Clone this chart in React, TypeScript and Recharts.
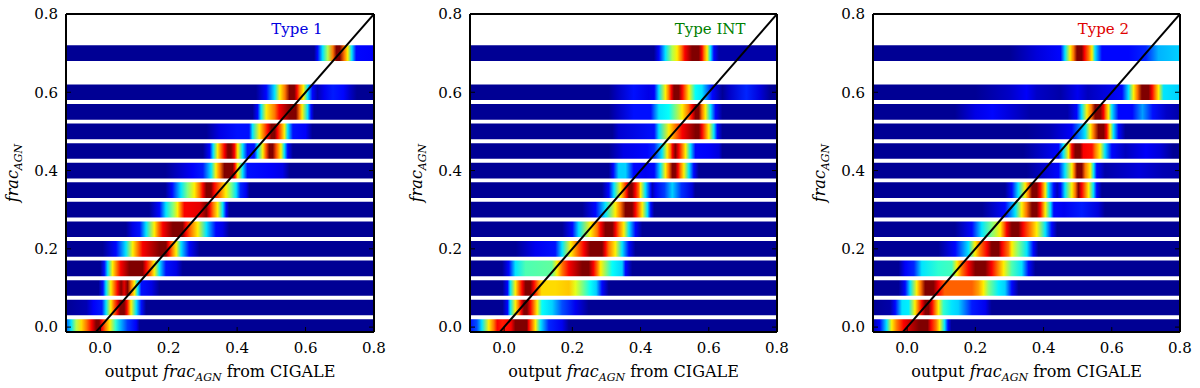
import React from "react";
import {
  ScatterChart,
  Scatter,
  XAxis,
  YAxis,
  ReferenceArea,
  ReferenceLine,
} from "recharts";

const X_DOMAIN: [number, number] = [-0.1, 0.8];
const Y_DOMAIN: [number, number] = [-0.0125, 0.8];
const X_TICKS = [0, 0.2, 0.4, 0.6, 0.8];
const Y_TICKS = [0, 0.2, 0.4, 0.6, 0.8];

// input frac_AGN of each band (rows), bottom to top
const ROW_LEVELS = [0, 0.05, 0.1, 0.15, 0.2, 0.25, 0.3, 0.35, 0.4, 0.45, 0.5, 0.55, 0.6, 0.7];
const ROW_HALF = 0.02;

const IDENTITY_LINE = [
  { x: -0.1, y: -0.1 },
  { x: 0.8, y: 0.8 },
];

// each row: [output frac_AGN, normalised density 0..1]
type Profile = [number, number][];

const type1Rows: Profile[] = [
  [[-0.1, 0.2], [-0.085, 0.35], [-0.07, 0.55], [-0.055, 0.66], [-0.04, 0.76], [-0.025, 0.88], [-0.012, 1], [-0.003, 1], [0.005, 0.88], [0.015, 0.76], [0.028, 0.64], [0.045, 0.42], [0.06, 0.3], [0.08, 0.18], [0.105, 0.12], [0.115, 0.02], [0.8, 0.02]],
  [[-0.1, 0.02], [-0.04, 0.05], [-0.02, 0.12], [0.005, 0.15], [0.017, 0.35], [0.031, 0.64], [0.041, 0.78], [0.051, 0.9], [0.058, 1], [0.07, 1], [0.078, 0.88], [0.09, 0.64], [0.105, 0.35], [0.12, 0.14], [0.134, 0.02], [0.8, 0.02]],
  [[-0.1, 0.02], [-0.005, 0.02], [0.008, 0.14], [0.017, 0.35], [0.031, 0.64], [0.041, 0.76], [0.051, 0.88], [0.061, 1], [0.07, 0.9], [0.08, 1], [0.09, 0.76], [0.1, 0.64], [0.11, 0.35], [0.12, 0.14], [0.15, 0.1], [0.173, 0.02], [0.8, 0.02]],
  [[-0.1, 0.02], [0, 0.02], [0.012, 0.14], [0.022, 0.35], [0.036, 0.64], [0.048, 0.76], [0.06, 0.88], [0.085, 1], [0.124, 1], [0.134, 0.88], [0.147, 0.76], [0.158, 0.64], [0.173, 0.35], [0.192, 0.14], [0.222, 0.1], [0.241, 0.02], [0.8, 0.02]],
  [[-0.1, 0.02], [0.007, 0.02], [0.046, 0.13], [0.075, 0.35], [0.095, 0.64], [0.11, 0.76], [0.124, 0.88], [0.173, 1], [0.192, 1], [0.2, 0.88], [0.21, 0.76], [0.222, 0.64], [0.236, 0.35], [0.26, 0.13], [0.29, 0.02], [0.8, 0.02]],
  [[-0.1, 0.02], [0.075, 0.02], [0.095, 0.1], [0.115, 0.14], [0.134, 0.35], [0.158, 0.64], [0.17, 0.76], [0.183, 0.88], [0.212, 1], [0.241, 1], [0.25, 0.88], [0.265, 0.76], [0.285, 0.64], [0.31, 0.35], [0.338, 0.13], [0.358, 0.1], [0.377, 0.02], [0.8, 0.02]],
  [[-0.1, 0.02], [0.143, 0.02], [0.173, 0.13], [0.192, 0.35], [0.212, 0.5], [0.226, 0.64], [0.236, 0.76], [0.246, 0.88], [0.29, 0.9], [0.31, 1], [0.32, 0.88], [0.33, 0.76], [0.343, 0.64], [0.358, 0.35], [0.368, 0.13], [0.377, 0.02], [0.8, 0.02]],
  [[-0.1, 0.02], [0.19, 0.02], [0.21, 0.13], [0.236, 0.35], [0.255, 0.5], [0.275, 0.64], [0.29, 0.76], [0.3, 0.88], [0.31, 1], [0.324, 1], [0.333, 0.88], [0.35, 0.76], [0.367, 0.64], [0.382, 0.5], [0.397, 0.35], [0.41, 0.16], [0.426, 0.11], [0.436, 0.02], [0.8, 0.02]],
  [[-0.1, 0.02], [0.19, 0.02], [0.27, 0.12], [0.3, 0.15], [0.324, 0.35], [0.338, 0.64], [0.35, 0.76], [0.363, 1], [0.387, 1], [0.393, 0.88], [0.402, 0.64], [0.416, 0.35], [0.43, 0.14], [0.5, 0.12], [0.533, 0.1], [0.553, 0.02], [0.8, 0.02]],
  [[-0.1, 0.02], [0.3, 0.02], [0.32, 0.13], [0.33, 0.35], [0.343, 0.64], [0.353, 0.76], [0.363, 0.88], [0.373, 1], [0.382, 1], [0.392, 0.88], [0.402, 0.64], [0.416, 0.35], [0.43, 0.14], [0.45, 0.14], [0.46, 0.35], [0.475, 0.64], [0.485, 0.8], [0.494, 1], [0.504, 1], [0.514, 0.8], [0.528, 0.64], [0.538, 0.35], [0.548, 0.13], [0.563, 0.02], [0.8, 0.02]],
  [[-0.1, 0.02], [0.31, 0.02], [0.35, 0.1], [0.4, 0.14], [0.435, 0.14], [0.445, 0.35], [0.465, 0.64], [0.478, 0.76], [0.49, 0.88], [0.5, 1], [0.51, 1], [0.518, 0.88], [0.528, 0.76], [0.538, 0.64], [0.548, 0.35], [0.563, 0.14], [0.6, 0.12], [0.62, 0.02], [0.8, 0.02]],
  [[-0.1, 0.02], [0.445, 0.02], [0.46, 0.13], [0.47, 0.35], [0.485, 0.64], [0.51, 0.76], [0.523, 0.88], [0.553, 1], [0.572, 1], [0.582, 0.76], [0.59, 0.64], [0.606, 0.35], [0.616, 0.13], [0.625, 0.02], [0.8, 0.02]],
  [[-0.1, 0.02], [0.455, 0.02], [0.485, 0.13], [0.51, 0.35], [0.525, 0.64], [0.54, 0.76], [0.553, 1], [0.567, 1], [0.575, 0.88], [0.582, 0.76], [0.594, 0.64], [0.606, 0.35], [0.62, 0.13], [0.635, 0.05], [0.655, 0.11], [0.68, 0.15], [0.71, 0.13], [0.73, 0.07], [0.75, 0.02], [0.8, 0.02]],
  [[-0.1, 0.02], [0.625, 0.02], [0.635, 0.13], [0.65, 0.35], [0.665, 0.55], [0.68, 0.76], [0.69, 1], [0.7, 1], [0.713, 0.76], [0.723, 0.64], [0.735, 0.35], [0.748, 0.13], [0.8, 0.12]],
];

const typeIntRows: Profile[] = [
  [[-0.1, 0.14], [-0.08, 0.2], [-0.065, 0.35], [-0.045, 0.64], [-0.03, 0.76], [-0.02, 0.88], [-0.005, 0.85], [0.02, 0.88], [0.033, 1], [0.067, 1], [0.072, 0.88], [0.082, 0.76], [0.092, 0.64], [0.107, 0.35], [0.131, 0.16], [0.17, 0.11], [0.19, 0.02], [0.8, 0.02]],
  [[-0.1, 0.02], [-0.005, 0.02], [0.01, 0.13], [0.018, 0.35], [0.033, 0.64], [0.043, 0.76], [0.05, 0.88], [0.058, 1], [0.067, 1], [0.077, 0.88], [0.087, 0.76], [0.097, 0.64], [0.111, 0.38], [0.141, 0.33], [0.17, 0.2], [0.209, 0.11], [0.248, 0.02], [0.8, 0.02]],
  [[-0.1, 0.02], [-0.005, 0.02], [0.01, 0.13], [0.018, 0.35], [0.033, 0.64], [0.043, 0.76], [0.053, 0.88], [0.063, 1], [0.077, 1], [0.087, 0.88], [0.1, 0.74], [0.11, 0.66], [0.15, 0.66], [0.19, 0.68], [0.209, 0.6], [0.229, 0.5], [0.253, 0.38], [0.27, 0.33], [0.287, 0.13], [0.307, 0.02], [0.8, 0.02]],
  [[-0.1, 0.02], [-0.006, 0.02], [0.014, 0.13], [0.033, 0.35], [0.063, 0.45], [0.14, 0.47], [0.155, 0.64], [0.17, 0.76], [0.19, 0.88], [0.229, 1], [0.248, 1], [0.262, 0.88], [0.273, 0.76], [0.283, 0.64], [0.317, 0.38], [0.346, 0.33], [0.356, 0.13], [0.376, 0.02], [0.8, 0.02]],
  [[-0.1, 0.02], [0.034, 0.02], [0.092, 0.11], [0.15, 0.14], [0.17, 0.35], [0.195, 0.64], [0.214, 0.76], [0.234, 0.88], [0.253, 1], [0.287, 1], [0.297, 0.88], [0.307, 0.76], [0.326, 0.64], [0.346, 0.35], [0.366, 0.13], [0.385, 0.02], [0.8, 0.02]],
  [[-0.1, 0.02], [0.17, 0.02], [0.2, 0.13], [0.219, 0.35], [0.253, 0.64], [0.273, 0.76], [0.283, 0.88], [0.297, 1], [0.317, 1], [0.327, 0.88], [0.337, 0.76], [0.351, 0.64], [0.366, 0.35], [0.385, 0.13], [0.405, 0.02], [0.8, 0.02]],
  [[-0.1, 0.02], [0.229, 0.02], [0.268, 0.13], [0.297, 0.35], [0.326, 0.64], [0.341, 0.76], [0.356, 1], [0.375, 1], [0.385, 0.88], [0.395, 0.76], [0.405, 0.64], [0.42, 0.35], [0.43, 0.13], [0.44, 0.02], [0.8, 0.02]],
  [[-0.1, 0.02], [0.287, 0.02], [0.307, 0.13], [0.322, 0.35], [0.341, 0.64], [0.351, 0.76], [0.36, 0.88], [0.366, 1], [0.375, 1], [0.385, 0.88], [0.395, 0.76], [0.4, 0.64], [0.414, 0.35], [0.43, 0.13], [0.434, 0.05], [0.444, 0.11], [0.47, 0.18], [0.493, 0.33], [0.52, 0.17], [0.551, 0.09], [0.56, 0.02], [0.8, 0.02]],
  [[-0.1, 0.02], [0.307, 0.02], [0.32, 0.13], [0.336, 0.33], [0.356, 0.33], [0.38, 0.13], [0.414, 0.11], [0.44, 0.13], [0.458, 0.35], [0.473, 0.64], [0.483, 0.76], [0.493, 1], [0.502, 1], [0.51, 0.88], [0.517, 0.76], [0.527, 0.64], [0.542, 0.35], [0.556, 0.13], [0.571, 0.02], [0.8, 0.02]],
  [[-0.1, 0.02], [0.307, 0.02], [0.35, 0.1], [0.42, 0.13], [0.44, 0.16], [0.463, 0.35], [0.478, 0.64], [0.488, 0.76], [0.493, 0.88], [0.502, 1], [0.512, 0.88], [0.522, 0.76], [0.532, 0.64], [0.546, 0.35], [0.561, 0.13], [0.6, 0.12], [0.63, 0.09], [0.64, 0.02], [0.8, 0.02]],
  [[-0.1, 0.02], [0.317, 0.02], [0.336, 0.08], [0.44, 0.14], [0.454, 0.35], [0.483, 0.64], [0.502, 0.76], [0.522, 0.88], [0.561, 1], [0.571, 1], [0.58, 0.88], [0.59, 0.76], [0.6, 0.64], [0.615, 0.35], [0.625, 0.13], [0.64, 0.02], [0.8, 0.02]],
  [[-0.1, 0.02], [0.307, 0.02], [0.33, 0.06], [0.38, 0.14], [0.43, 0.14], [0.454, 0.35], [0.483, 0.38], [0.522, 0.64], [0.54, 0.76], [0.551, 0.88], [0.561, 1], [0.571, 1], [0.58, 0.76], [0.59, 0.64], [0.605, 0.35], [0.62, 0.13], [0.64, 0.02], [0.8, 0.02]],
  [[-0.1, 0.02], [0.307, 0.02], [0.33, 0.06], [0.38, 0.14], [0.424, 0.1], [0.44, 0.12], [0.454, 0.35], [0.473, 0.64], [0.483, 0.76], [0.49, 0.88], [0.498, 1], [0.512, 1], [0.522, 0.88], [0.532, 0.76], [0.542, 0.64], [0.561, 0.38], [0.58, 0.35], [0.61, 0.13], [0.64, 0.02], [0.66, 0.07], [0.71, 0.16], [0.75, 0.09], [0.78, 0.02], [0.8, 0.02]],
  [[-0.1, 0.02], [0.439, 0.02], [0.454, 0.13], [0.473, 0.35], [0.493, 0.55], [0.507, 0.64], [0.52, 0.76], [0.53, 0.88], [0.551, 1], [0.571, 1], [0.58, 0.88], [0.586, 0.76], [0.595, 0.64], [0.605, 0.35], [0.615, 0.13], [0.63, 0.04], [0.8, 0.04]],
];

const type2Rows: Profile[] = [
  [[-0.1, 0.05], [-0.08, 0.13], [-0.06, 0.35], [-0.045, 0.64], [-0.03, 0.76], [-0.01, 0.88], [0.004, 0.92], [0.035, 1], [0.06, 1], [0.07, 0.88], [0.085, 0.76], [0.095, 0.64], [0.11, 0.35], [0.12, 0.13], [0.13, 0.02], [0.8, 0.02]],
  [[-0.1, 0.02], [-0.05, 0.04], [-0.035, 0.13], [-0.015, 0.35], [0.004, 0.36], [0.023, 0.64], [0.033, 0.76], [0.043, 0.88], [0.053, 1], [0.063, 1], [0.073, 0.88], [0.082, 0.76], [0.092, 0.64], [0.107, 0.42], [0.131, 0.35], [0.15, 0.33], [0.19, 0.15], [0.229, 0.11], [0.248, 0.02], [0.8, 0.02]],
  [[-0.1, 0.02], [-0.025, 0.02], [-0.006, 0.13], [0.009, 0.35], [0.028, 0.64], [0.04, 0.76], [0.053, 1], [0.077, 1], [0.092, 0.88], [0.11, 0.78], [0.19, 0.78], [0.209, 0.72], [0.224, 0.64], [0.239, 0.5], [0.268, 0.36], [0.287, 0.33], [0.307, 0.13], [0.327, 0.02], [0.8, 0.02]],
  [[-0.1, 0.02], [-0.025, 0.02], [-0.006, 0.12], [0.02, 0.16], [0.043, 0.35], [0.092, 0.42], [0.131, 0.44], [0.146, 0.64], [0.16, 0.76], [0.18, 0.88], [0.2, 1], [0.229, 1], [0.248, 0.88], [0.265, 0.76], [0.283, 0.64], [0.307, 0.45], [0.336, 0.35], [0.356, 0.13], [0.376, 0.02], [0.8, 0.02]],
  [[-0.1, 0.02], [0.092, 0.02], [0.141, 0.13], [0.18, 0.35], [0.199, 0.64], [0.214, 0.76], [0.234, 0.88], [0.248, 1], [0.268, 1], [0.278, 0.88], [0.297, 0.76], [0.307, 0.64], [0.326, 0.5], [0.351, 0.35], [0.37, 0.13], [0.385, 0.02], [0.8, 0.02]],
  [[-0.1, 0.02], [0.14, 0.02], [0.19, 0.13], [0.219, 0.35], [0.248, 0.5], [0.273, 0.64], [0.283, 0.76], [0.292, 0.88], [0.307, 1], [0.326, 1], [0.34, 0.88], [0.36, 0.76], [0.38, 0.64], [0.405, 0.35], [0.424, 0.13], [0.44, 0.02], [0.8, 0.02]],
  [[-0.1, 0.02], [0.22, 0.02], [0.287, 0.13], [0.317, 0.35], [0.336, 0.64], [0.35, 0.76], [0.366, 1], [0.38, 1], [0.39, 0.88], [0.405, 0.64], [0.42, 0.35], [0.43, 0.13], [0.46, 0.11], [0.512, 0.15], [0.56, 0.09], [0.58, 0.02], [0.8, 0.02]],
  [[-0.1, 0.02], [0.287, 0.02], [0.307, 0.13], [0.326, 0.35], [0.346, 0.64], [0.356, 0.76], [0.366, 1], [0.38, 1], [0.39, 0.88], [0.405, 0.64], [0.414, 0.35], [0.43, 0.13], [0.44, 0.06], [0.45, 0.13], [0.463, 0.35], [0.483, 0.64], [0.493, 0.76], [0.502, 1], [0.512, 0.88], [0.532, 0.64], [0.546, 0.35], [0.556, 0.13], [0.571, 0.02], [0.8, 0.02]],
  [[-0.1, 0.02], [0.35, 0.02], [0.444, 0.13], [0.463, 0.35], [0.483, 0.64], [0.49, 0.76], [0.498, 1], [0.512, 1], [0.522, 0.76], [0.537, 0.64], [0.547, 0.35], [0.556, 0.13], [0.58, 0.04], [0.68, 0.09], [0.75, 0.05], [0.8, 0.04]],
  [[-0.1, 0.02], [0.34, 0.02], [0.444, 0.13], [0.458, 0.35], [0.473, 0.64], [0.483, 0.88], [0.493, 1], [0.507, 1], [0.517, 0.88], [0.542, 0.86], [0.551, 0.76], [0.566, 0.64], [0.58, 0.35], [0.6, 0.13], [0.64, 0.06], [0.7, 0.12], [0.74, 0.09], [0.78, 0.02], [0.8, 0.02]],
  [[-0.1, 0.02], [0.35, 0.02], [0.42, 0.05], [0.483, 0.12], [0.522, 0.35], [0.537, 0.64], [0.547, 0.76], [0.561, 1], [0.576, 1], [0.585, 0.88], [0.595, 0.64], [0.605, 0.35], [0.62, 0.13], [0.64, 0.02], [0.8, 0.02]],
  [[-0.1, 0.02], [0.14, 0.02], [0.2, 0.1], [0.25, 0.13], [0.3, 0.09], [0.36, 0.04], [0.47, 0.04], [0.497, 0.13], [0.512, 0.35], [0.527, 0.64], [0.54, 0.76], [0.551, 1], [0.566, 1], [0.576, 0.88], [0.582, 0.76], [0.59, 0.64], [0.6, 0.35], [0.62, 0.13], [0.66, 0.13], [0.69, 0.28], [0.72, 0.14], [0.76, 0.07], [0.8, 0.04]],
  [[-0.1, 0.02], [0.2, 0.02], [0.3, 0.07], [0.35, 0.12], [0.38, 0.07], [0.45, 0.04], [0.5, 0.11], [0.53, 0.06], [0.63, 0.13], [0.649, 0.35], [0.664, 0.64], [0.675, 0.76], [0.688, 1], [0.708, 1], [0.718, 0.88], [0.727, 0.76], [0.737, 0.64], [0.752, 0.35], [0.8, 0.33]],
  [[-0.1, 0.02], [0.3, 0.02], [0.38, 0.09], [0.45, 0.13], [0.463, 0.35], [0.478, 0.64], [0.488, 0.76], [0.498, 1], [0.512, 1], [0.52, 0.88], [0.532, 0.76], [0.542, 0.64], [0.551, 0.35], [0.571, 0.13], [0.65, 0.13], [0.7, 0.16], [0.737, 0.3], [0.8, 0.33]],
];

const PANEL_TITLES = ["Type 1", "Type INT", "Type 2"];
const TITLE_POS = { x: 0.5, y: 0.75 };

const SERIF = "'DejaVu Serif', serif";

// matplotlib "jet" colormap
const clamp01 = (t: number) => Math.max(0, Math.min(1, t));
function jet(v: number) {
  const r = clamp01(1.5 - Math.abs(4 * v - 3));
  const g = clamp01(1.5 - Math.abs(4 * v - 2));
  const b = clamp01(1.5 - Math.abs(4 * v - 1));
  return `rgb(${Math.round(r * 255)},${Math.round(g * 255)},${Math.round(b * 255)})`;
}

const XLabel = (props: any) => {
  const vb = props.viewBox;
  const cx = vb.x + vb.width / 2;
  return (
    <text x={cx} y={vb.y + 45} textAnchor="middle" fontFamily={SERIF} fontSize={16} fill="#000">
      <tspan>output </tspan>
      <tspan fontStyle="italic">frac</tspan>
      <tspan fontStyle="italic" fontSize={11} dy={4}>AGN</tspan>
      <tspan dy={-4}> from CIGALE</tspan>
    </text>
  );
};

const YLabel = (props: any) => {
  const vb = props.viewBox;
  const x = vb.x + 2;
  const y = vb.y + vb.height / 2;
  return (
    <text x={x} y={y} transform={`rotate(-90 ${x} ${y})`} textAnchor="middle" fontFamily={SERIF} fontSize={16} fill="#000">
      <tspan fontStyle="italic">frac</tspan>
      <tspan fontStyle="italic" fontSize={11} dy={4}>AGN</tspan>
    </text>
  );
};

interface PanelProps {
  id: string;
  rows: Profile[];
  title: string;
  color: string;
  width: number;
}

function Panel({ id, rows, title, color, width }: PanelProps) {
  const span = X_DOMAIN[1] - X_DOMAIN[0];
  const tickStyle = { fill: "#000", fontSize: 15, fontFamily: SERIF };
  const frame = { stroke: "#000", strokeWidth: 2 };

  return (
    <ScatterChart width={width} height={388} margin={{ top: 12, right: 16, bottom: 26, left: 16 }}>
      <defs>
        {rows.map((row, i) => (
          <linearGradient key={i} id={`${id}-row${i}`} x1="0" y1="0" x2="1" y2="0">
            {row.map(([x, v], j) => (
              <stop key={j} offset={(x - X_DOMAIN[0]) / span} stopColor={jet(v)} />
            ))}
          </linearGradient>
        ))}
      </defs>

      <XAxis
        type="number"
        dataKey="x"
        domain={X_DOMAIN}
        ticks={X_TICKS}
        allowDataOverflow
        height={30}
        tickSize={-5}
        tickMargin={15}
        tick={tickStyle}
        tickLine={{ stroke: "#000" }}
        axisLine={frame}
        tickFormatter={(v) => v.toFixed(1)}
        label={{ content: (p: any) => <XLabel {...p} /> }}
      />
      <XAxis
        xAxisId="top"
        orientation="top"
        type="number"
        domain={X_DOMAIN}
        ticks={X_TICKS}
        allowDataOverflow
        height={2}
        tickSize={-5}
        tickFormatter={() => ""}
        tickLine={{ stroke: "#000" }}
        axisLine={frame}
      />
      <YAxis
        type="number"
        dataKey="y"
        domain={Y_DOMAIN}
        ticks={Y_TICKS}
        allowDataOverflow
        width={50}
        tickSize={-5}
        tickMargin={13}
        tick={tickStyle}
        tickLine={{ stroke: "#000" }}
        axisLine={frame}
        tickFormatter={(v) => v.toFixed(1)}
        label={{ content: (p: any) => <YLabel {...p} /> }}
      />
      <YAxis
        yAxisId="right"
        orientation="right"
        type="number"
        domain={Y_DOMAIN}
        ticks={Y_TICKS}
        allowDataOverflow
        width={2}
        tickSize={-5}
        tickFormatter={() => ""}
        tickLine={{ stroke: "#000" }}
        axisLine={frame}
      />

      {ROW_LEVELS.map((level, i) => (
        <ReferenceArea
          key={level}
          x1={X_DOMAIN[0]}
          x2={X_DOMAIN[1]}
          y1={level - ROW_HALF}
          y2={level + ROW_HALF}
          fill={`url(#${id}-row${i})`}
          fillOpacity={1}
          stroke="none"
          ifOverflow="hidden"
        />
      ))}

      <ReferenceLine
        segment={IDENTITY_LINE}
        stroke="#000"
        strokeWidth={2}
        ifOverflow="hidden"
      />

      <Scatter
        data={[{ ...TITLE_POS, label: title }]}
        isAnimationActive={false}
        shape={(p: any) => (
          <text x={p.cx} y={p.cy} fontFamily={SERIF} fontSize={15} fill={color}>
            {p.payload.label}
          </text>
        )}
      />
    </ScatterChart>
  );
}

export default function App() {
  return (
    <div style={{ position: "absolute", left: 0, top: 0, width: 1200, height: 388, background: "#fff" }}>
      <div style={{ position: "absolute", left: 0, top: 0 }}>
        <Panel id="t1" rows={type1Rows} title={PANEL_TITLES[0]} color="#0000e0" width={392} />
      </div>
      <div style={{ position: "absolute", left: 404, top: 0 }}>
        <Panel id="tint" rows={typeIntRows} title={PANEL_TITLES[1]} color="#008000" width={391} />
      </div>
      <div style={{ position: "absolute", left: 807, top: 0 }}>
        <Panel id="t2" rows={type2Rows} title={PANEL_TITLES[2]} color="#e00000" width={391} />
      </div>
    </div>
  );
}
